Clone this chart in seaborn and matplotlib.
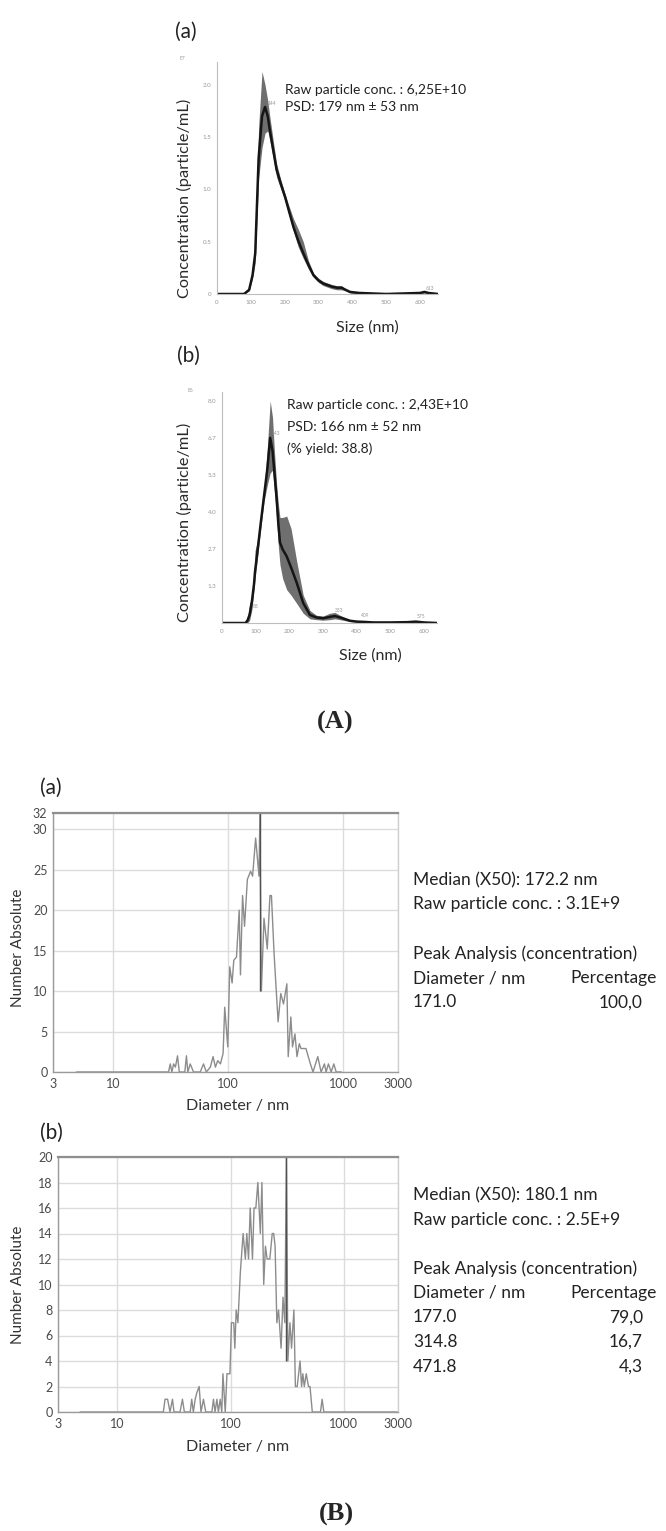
import numpy as np
import matplotlib
matplotlib.use("Agg")
import matplotlib.pyplot as plt
import seaborn as sns
import pandas as pd

sns.set_style("white")
plt.rcParams['font.family'] = ['Lato', 'DejaVu Sans']

# ---- (A)(a) NTA size distribution, E7 particles/mL
size_a = [0, 80, 95, 105, 113, 123, 133, 142, 150, 156, 166, 176, 188, 201, 213, 226,
          240, 255, 270, 285, 300, 314, 340, 355, 368, 380, 393, 420, 500, 600, 613, 625, 653]
mean_a = [0, 0, 0.04, 0.18, 0.39, 1.30, 1.70, 1.79, 1.70, 1.57, 1.38, 1.19, 1.06, 0.93, 0.79, 0.64,
          0.51, 0.39, 0.28, 0.18, 0.13, 0.10, 0.07, 0.06, 0.06, 0.04, 0.02, 0.01, 0.0, 0.01, 0.02, 0.01, 0.0]
upper_a = [0, 0, 0.05, 0.22, 0.50, 1.60, 2.13, 2.00, 1.85, 1.70, 1.47, 1.25, 1.10, 0.96, 0.84, 0.72,
           0.62, 0.50, 0.32, 0.20, 0.15, 0.12, 0.09, 0.08, 0.08, 0.05, 0.03, 0.01, 0.0, 0.01, 0.02, 0.01, 0.0]
lower_a = [0, 0, 0.03, 0.15, 0.30, 1.10, 1.40, 1.54, 1.56, 1.47, 1.30, 1.12, 1.01, 0.89, 0.75, 0.60,
           0.45, 0.34, 0.24, 0.16, 0.11, 0.08, 0.05, 0.04, 0.04, 0.03, 0.01, 0.0, 0.0, 0.0, 0.01, 0.0, 0.0]
tags_a_x = [144, 613]
tags_a_y = [1.80, 0.03]

# ---- (A)(b) NTA size distribution, E6 particles/mL
size_b = [0, 70, 76, 82, 89, 95, 98, 104, 115, 125, 135, 143, 150, 155, 162, 167, 172, 180, 192,
          205, 222, 241, 261, 280, 300, 320, 335, 350, 380, 400, 420, 450, 500, 550, 575, 600, 638]
mean_b = [0, 0, 0.1, 0.3, 0.8, 1.4, 1.85, 2.45, 3.6, 4.6, 5.6, 6.67, 6.2, 5.5, 4.5, 3.6, 2.9, 2.65, 2.4,
          2.0, 1.44, 0.72, 0.29, 0.2, 0.17, 0.22, 0.25, 0.2, 0.08, 0.05, 0.04, 0.02, 0.02, 0.03, 0.05, 0.02, 0]
upper_b = [0, 0, 0.2, 0.7, 0.9, 1.6, 2.6, 2.9, 3.7, 4.8, 6.4, 8.0, 7.4, 6.3, 5.0, 4.3, 3.8, 3.8, 3.85,
           3.4, 2.2, 1.0, 0.45, 0.28, 0.25, 0.35, 0.38, 0.28, 0.12, 0.07, 0.05, 0.03, 0.02, 0.04, 0.06, 0.03, 0]
lower_b = [0, 0, 0.0, 0.1, 0.5, 1.2, 1.6, 2.2, 3.4, 4.4, 5.0, 5.4, 5.5, 4.8, 3.8, 2.8, 2.1, 1.6, 1.2,
           1.0, 0.7, 0.35, 0.15, 0.12, 0.1, 0.12, 0.15, 0.12, 0.05, 0.03, 0.02, 0.01, 0.01, 0.02, 0.03, 0.01, 0]
tags_b_x = [143, 88, 333, 409, 575]
tags_b_y = [6.75, 0.5, 0.35, 0.18, 0.15]
yticks_b = [4/3, 8/3, 4.0, 16/3, 20/3, 8.0]
yticklabels_b = ['1.3', '2.7', '4.0', '5.3', '6.7', '8.0']

# ---- (B)(a) PTA number distribution
diam_a = [4.8, 30.3, 31.4, 32.4, 33.6, 34.8, 36.3, 37.6, 42, 43.4, 44.6, 46.8, 50, 57.2, 61.1, 64.6,
          70, 74, 77.5, 81.2, 85.7, 90.4, 93.4, 99.3, 103.3, 108.3, 112, 118.2, 124.8, 128, 133.5,
          138.9, 147, 156.7, 163.2, 173.4, 185.5, 189, 194.5, 205, 219, 231, 238, 251, 272, 287,
          303, 324, 333, 351, 363, 381, 397, 416, 430, 475, 519, 547, 602, 643, 688, 711, 745,
          787, 830, 870, 964]
count_a = [0, 0, 1, 0, 1, 0.6, 2, 0, 0, 2, 0, 1, 0, 0, 1, 0,
           0.6, 1.9, 0.6, 1.4, 1, 2.3, 8, 3.1, 13, 11, 13.8, 14.2, 20, 12, 21.8,
           18, 23.8, 24.8, 24.2, 28.9, 24.2, 32, 10, 19, 15.2, 21.8, 21.8, 14.6, 6.2, 9.7,
           8.4, 10.9, 1.9, 6.8, 3.1, 4.7, 1.9, 3.5, 2.9, 2.9, 1, 0, 1.9, 0, 1, 0, 1,
           0, 1, 0, 0]
spike_a = (189, 10)

# ---- (B)(b) PTA number distribution
diam_b = [4.7, 25.5, 26.4, 27.8, 29.2, 30.7, 31.7, 35.8, 37.6, 39.1, 44.0, 45.4, 46.9, 48.7, 50.3,
          52.8, 54.8, 57.6, 60.4, 68.4, 70.6, 72.9, 75.7, 78, 80.9, 83.6, 85.6, 89.7, 92.9, 98.7,
          101.7, 106.6, 109, 112, 116, 122, 129, 135, 139, 144, 149, 156, 161, 167, 174, 183,
          189, 196, 203, 210, 222, 233, 240, 247, 256, 265, 279, 290, 301, 311, 320, 334, 345,
          362, 373, 387, 410, 423, 434, 447, 465, 487, 502, 526, 621, 642, 665, 2950]
count_b = [0, 0, 1, 1, 0, 1, 0, 0, 1, 0, 0, 1, 0, 1, 1.5,
           2, 0, 1, 0, 0, 1, 0, 1, 0, 1, 0, 3, 0, 3, 3,
           7, 7, 5, 8, 7, 11, 14, 12, 14, 12, 16, 12, 16, 16, 18, 14,
           18, 10, 13, 12, 12, 14, 14, 13, 7, 8, 5, 9, 7, 20, 4, 7, 5,
           8, 2, 2, 4, 2, 3, 2, 3, 2, 2, 0, 0, 1, 0, 0]
spike_b = (311, 4)

W, H = 666, 1531
fig = plt.figure(figsize=(W / 100, H / 100), dpi=100)
TXT = '#222222'


def rect(l, t, r, b):
    return [l / W, 1 - b / H, (r - l) / W, (b - t) / H]


def nta_panel(ax, x, m, lo, hi, xmax, ymax):
    ax.fill_between(x, lo, hi, color='#6f6f6f', lw=0)
    sns.lineplot(x=x, y=m, ax=ax, color='#151515', lw=1.8, estimator=None, sort=False)
    ax.set_xlim(0, xmax)
    ax.set_ylim(0, ymax)
    ax.set_xticks(range(0, 700, 100))
    ax.tick_params(labelsize=4.5, colors='#999999', length=2, width=0.6, pad=2)
    for s in ['top', 'right']:
        ax.spines[s].set_visible(False)
    for s in ['left', 'bottom']:
        ax.spines[s].set_color('#bdbdbd')
        ax.spines[s].set_linewidth(0.8)
    ax.set_ylabel('Concentration (particle/mL)', fontsize=11.8, color='#2a2a2a')
    ax.set_xlabel('Size (nm)', fontsize=11.5, color='#2a2a2a')


ax1 = fig.add_axes(rect(217, 62, 438, 294))
nta_panel(ax1, size_a, mean_a, lower_a, upper_a, 653, 2.22)
ax1.set_yticks([0, 0.5, 1.0, 1.5, 2.0])
ax1.set_yticklabels(['0', '0.5', '1.0', '1.5', '2.0'])
ax1.yaxis.set_label_coords(-0.113, 0.414)
ax1.xaxis.set_label_coords(0.679, -0.112)
for tx, ty in zip(tags_a_x, tags_a_y):
    ax1.text(tx + 4, ty, str(tx), fontsize=3.5, color='#999999', va='bottom')
ax1.text(200, 1.95, 'Raw particle conc. : 6,25E+10', fontsize=10, color=TXT, va='center')
ax1.text(200, 1.79, 'PSD: 179 nm ± 53 nm', fontsize=10, color=TXT, va='center')

ax2 = fig.add_axes(rect(222, 392, 437, 623))
nta_panel(ax2, size_b, mean_b, lower_b, upper_b, 638, 8.32)
ax2.set_yticks(yticks_b)
ax2.set_yticklabels(yticklabels_b)
ax2.yaxis.set_label_coords(-0.140, 0.437)
ax2.xaxis.set_label_coords(0.688, -0.108)
for tx, ty in zip(tags_b_x, tags_b_y):
    ax2.text(tx + 3, ty, str(tx), fontsize=3.5, color='#999999', va='bottom')
ax2.text(193, 7.85, 'Raw particle conc. : 2,43E+10', fontsize=10, color=TXT, va='center')
ax2.text(193, 7.07, 'PSD: 166 nm ± 52 nm', fontsize=10, color=TXT, va='center')
ax2.text(193, 6.28, '(% yield: 38.8)', fontsize=10, color=TXT, va='center')

fig.text(175 / W, 1 - 32 / H, '(a)', fontsize=15, color=TXT, va='center')
fig.text(180 / W, 1 - 58 / H, 'E7', fontsize=3.5, color='#999999', va='center')
fig.text(177 / W, 1 - 356 / H, '(b)', fontsize=15, color=TXT, va='center')
fig.text(187 / W, 1 - 390 / H, 'E6', fontsize=3.5, color='#999999', va='center')
fig.text(335 / W, 1 - 722 / H, '(A)', fontsize=19, fontweight='bold', family='Liberation Serif',
         ha='center', va='center')
fig.text(336 / W, 1 - 1514 / H, '(B)', fontsize=19, fontweight='bold', family='Liberation Serif',
         ha='center', va='center')


def pta_panel(ax, x, y, spike, ymax, yticks):
    ax.set_xscale('log')
    ax.grid(True, which='major', color='#dcdcdc', lw=1.0)
    ax.set_axisbelow(True)
    sns.lineplot(x=x, y=y, ax=ax, color='#8c8c8c', lw=1.0, estimator=None, sort=False)
    ax.vlines(spike[0], spike[1], ymax, color='#505050', lw=1.0)
    ax.set_xlim(3, 3000)
    ax.set_ylim(0, ymax)
    ax.set_xticks([3, 10, 100, 1000, 3000])
    ax.set_xticklabels(['3', '10', '100', '1000', '3000'])
    ax.xaxis.set_minor_locator(matplotlib.ticker.NullLocator())
    ax.set_yticks(yticks)
    ax.tick_params(labelsize=9, colors='#4a4a4a', length=3, width=0.8, pad=1, direction='out')
    ax.tick_params(axis='both', color='#999999')
    ax.spines['top'].set_color('#8f8f8f')
    ax.spines['top'].set_linewidth(1.6)
    ax.spines['left'].set_color('#9a9a9a')
    ax.spines['bottom'].set_color('#9a9a9a')
    ax.spines['right'].set_color('#d0d0d0')
    for s in ['left', 'bottom', 'right']:
        ax.spines[s].set_linewidth(1.0)
    ax.set_ylabel('Number Absolute', fontsize=11, color='#333333')
    ax.set_xlabel('Diameter / nm', fontsize=11.5, color='#333333')


ax3 = fig.add_axes(rect(53, 813, 398, 1072))
pta_panel(ax3, diam_a, count_a, spike_a, 32, [0, 5, 10, 15, 20, 25, 30, 32])
ax3.yaxis.set_label_coords(-0.081, 0.479)
ax3.xaxis.set_label_coords(0.536, -0.104)

ax4 = fig.add_axes(rect(58, 1157, 398, 1412))
pta_panel(ax4, diam_b, count_b, spike_b, 20, list(range(0, 21, 2)))
ax4.yaxis.set_label_coords(-0.097, 0.498)
ax4.xaxis.set_label_coords(0.529, -0.110)

fig.text(40 / W, 1 - 788 / H, '(a)', fontsize=15, color=TXT, va='center')
fig.text(40 / W, 1 - 1133 / H, '(b)', fontsize=15, color=TXT, va='center')

# right-hand info blocks
info_a = ['Median (X50): 172.2 nm', 'Raw particle conc. : 3.1E+9', '',
          'Peak Analysis (concentration)']
peaks_a_d = ['171.0']
peaks_a_p = ['100,0']
info_b = ['Median (X50): 180.1 nm', 'Raw particle conc. : 2.5E+9', '',
          'Peak Analysis (concentration)']
peaks_b_d = ['177.0', '314.8', '471.8']
peaks_b_p = ['79,0', '16,7', '4,3']


def info_block(top, lines, pd_, pp_, step=24.5):
    y = top
    for ln in lines:
        if ln:
            fig.text(413 / W, 1 - y / H, ln, fontsize=12.5, color=TXT, va='center')
        y += step
    fig.text(413 / W, 1 - y / H, 'Diameter / nm', fontsize=12.5, color=TXT, va='center')
    fig.text(657 / W, 1 - y / H, 'Percentage', fontsize=12.5, color=TXT, va='center', ha='right')
    for d, p in zip(pd_, pp_):
        y += step
        fig.text(413 / W, 1 - y / H, d, fontsize=12.5, color=TXT, va='center')
        fig.text(643 / W, 1 - y / H, p, fontsize=12.5, color=TXT, va='center', ha='right')


info_block(880, info_a, peaks_a_d, peaks_a_p)
info_block(1195, info_b, peaks_b_d, peaks_b_p)

fig.savefig('out.png', dpi=100, facecolor='white')
